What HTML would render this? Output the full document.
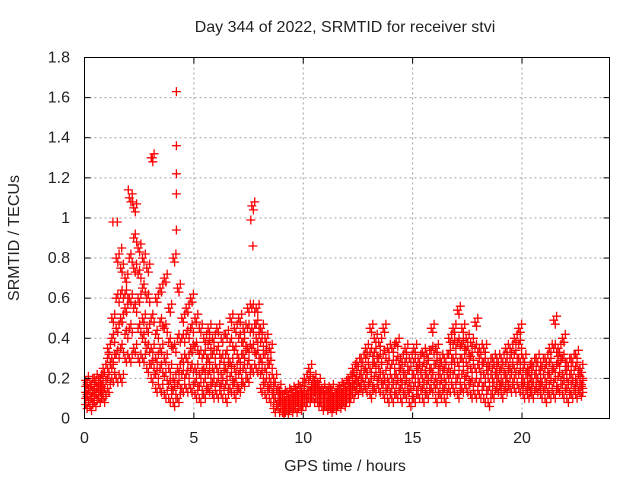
<!DOCTYPE html>
<html><head><meta charset="utf-8"><style>
body{margin:0;background:#fff}
svg text{font-family:"Liberation Sans",sans-serif;font-size:16px;fill:#222}
</style></head><body>
<svg id="chart" width="640" height="480" viewBox="0 0 640 480">
<rect width="640" height="480" fill="#fff"/>
<text x="345" y="32" text-anchor="middle">Day 344 of 2022, SRMTID for receiver stvi</text>
<text transform="translate(19,238) rotate(-90)" text-anchor="middle">SRMTID / TECUs</text>
<text x="345" y="471" text-anchor="middle">GPS time / hours</text>
<g id="grid"></g>
<g id="marks"></g>
<rect x="84.5" y="57.5" width="525" height="361" fill="none" stroke="#000" stroke-width="1"/>
<g id="ticks"></g>
</svg>
<script>
const xTicks=[0,5,10,15,20];
const yTicks=[0,0.2,0.4,0.6,0.8,1,1.2,1.4,1.6,1.8];
const yTickLabels=["0","0.2","0.4","0.6","0.8","1","1.2","1.4","1.6","1.8"];
const tStart=0.1, tStep=0.2;
const lo=[.07,.06,.08,.1,.1,.15,.2,.2,.2,.3,.3,.35,.3,.3,.25,.2,.15,.15,.12,.1,.08,.1,.15,.15,.15,.12,.1,.12,.15,.12,.12,.12,.1,.15,.12,.15,.18,.2,.25,.25,.15,.12,.1,.05,.05,.03,.04,.05,.05,.06,.08,.1,.1,.08,.06,.06,.05,.06,.07,.08,.1,.12,.14,.15,.15,.12,.15,.15,.12,.1,.1,.12,.1,.12,.08,.1,.12,.1,.12,.15,.1,.12,.1,.15,.15,.12,.15,.15,.12,.12,.12,.1,.08,.12,.15,.12,.15,.15,.15,.15,.12,.12,.12,.15,.12,.1,.12,.12,.15,.12,.1,.12,.12,.13];
const q1=[.1,.09,.11,.12,.13,.2,.25,.32,.35,.42,.45,.55,.45,.4,.35,.27,.22,.25,.21,.17,.14,.17,.22,.22,.25,.18,.16,.18,.22,.18,.18,.17,.17,.21,.18,.22,.25,.27,.35,.32,.22,.18,.15,.08,.07,.05,.06,.07,.07,.08,.1,.12,.12,.1,.08,.08,.07,.08,.09,.1,.12,.15,.17,.18,.2,.18,.21,.2,.17,.15,.15,.17,.15,.17,.13,.16,.16,.15,.17,.2,.15,.17,.15,.2,.22,.2,.22,.21,.18,.18,.18,.16,.14,.16,.18,.16,.18,.2,.2,.22,.16,.15,.16,.18,.16,.15,.17,.18,.21,.17,.15,.17,.16,.15];
const mid=[.13,.12,.14,.15,.17,.25,.3,.45,.5,.55,.6,.75,.6,.5,.45,.35,.3,.35,.3,.25,.2,.25,.3,.3,.35,.25,.22,.25,.3,.25,.25,.22,.25,.28,.25,.3,.32,.35,.45,.4,.3,.25,.2,.12,.1,.07,.08,.09,.1,.1,.12,.14,.15,.12,.1,.1,.09,.1,.11,.12,.14,.18,.2,.22,.25,.25,.28,.25,.22,.2,.2,.22,.2,.22,.18,.22,.2,.2,.22,.25,.2,.22,.2,.25,.3,.28,.3,.28,.25,.25,.25,.22,.2,.2,.22,.2,.22,.25,.25,.3,.2,.18,.2,.22,.2,.2,.22,.25,.28,.22,.2,.22,.2,.18];
const q3=[.16,.15,.17,.18,.21,.3,.4,.6,.62,.62,.8,.9,.72,.65,.6,.5,.42,.48,.45,.38,.35,.4,.4,.42,.45,.36,.32,.32,.37,.32,.34,.3,.32,.38,.34,.4,.38,.45,.55,.47,.38,.32,.27,.16,.12,.1,.1,.11,.12,.13,.16,.19,.17,.15,.12,.12,.12,.11,.13,.14,.17,.21,.24,.26,.3,.33,.33,.3,.32,.27,.27,.29,.25,.28,.24,.28,.25,.26,.27,.34,.27,.26,.25,.32,.37,.38,.37,.34,.31,.35,.3,.28,.24,.25,.26,.25,.28,.3,.32,.37,.25,.22,.24,.26,.24,.25,.28,.35,.31,.3,.24,.26,.26,.21];
const hi=[.19,.18,.2,.2,.25,.35,.5,.8,.75,.7,1.1,1.05,.85,.8,.75,1.3,.6,.65,.7,.55,.8,.65,.5,.55,.6,.5,.45,.4,.45,.4,.45,.4,.42,.5,.45,.5,.45,.55,1.06,.55,.45,.4,.35,.2,.15,.12,.13,.14,.15,.16,.2,.25,.2,.18,.15,.14,.15,.13,.16,.17,.2,.25,.28,.3,.35,.45,.4,.38,.45,.35,.35,.38,.3,.35,.3,.35,.3,.33,.32,.45,.35,.3,.3,.4,.45,.54,.45,.4,.38,.48,.35,.35,.28,.3,.3,.3,.35,.35,.4,.45,.3,.25,.28,.3,.28,.3,.35,.49,.35,.4,.28,.3,.32,.25];
const spikeT=[4.2,4.2,4.2,4.2,4.2,2.0,1.5,1.3,7.6,7.7,3.1,2.2,1.7];
const spikeV=[1.63,1.36,1.22,1.12,0.94,1.14,0.98,0.98,0.99,0.86,1.3,1.08,0.85];
const X0=84.5,X1=609.5,Y0=418.5,Y1=57.5,XMAX=24,YMAX=1.8;
function sx(t){return X0+(X1-X0)*t/XMAX}
function sy(v){return Y0-(Y0-Y1)*v/YMAX}
const NS="http://www.w3.org/2000/svg";
const grid=document.getElementById('grid'),ticks=document.getElementById('ticks'),marks=document.getElementById('marks');
function mk(tag,attrs,parent){const e=document.createElementNS(NS,tag);for(const k in attrs)e.setAttribute(k,attrs[k]);parent.appendChild(e);return e;}
xTicks.forEach(t=>{
  const x=sx(t);
  if(t>0){const g=mk('line',{x1:x,x2:x,y1:Y1,y2:Y0,stroke:'#a0a0a0','stroke-dasharray':'2,3'},grid);
  
  }
  mk('line',{x1:x,x2:x,y1:Y0,y2:Y0-6,stroke:'#000'},ticks);
  mk('line',{x1:x,x2:x,y1:Y1,y2:Y1+6,stroke:'#000'},ticks);
  const l=mk('text',{x:x,y:443,'text-anchor':'middle'},ticks);l.textContent=t;
  
  
});
yTicks.forEach((v,i)=>{
  const y=sy(v);
  if(v>0&&v<1.8){const g=mk('line',{x1:X0,x2:X1,y1:y,y2:y,stroke:'#a0a0a0','stroke-dasharray':'2,3'},grid);
  
  }
  mk('line',{x1:X0,x2:X0+6,y1:y,y2:y,stroke:'#000'},ticks);
  mk('line',{x1:X1,x2:X1-6,y1:y,y2:y,stroke:'#000'},ticks);
  const l=mk('text',{x:70,y:y+5,'text-anchor':'end'},ticks);l.textContent=yTickLabels[i];
  
  
});
let dpath='';
function cross(t,v){
  const x=sx(t),y=sy(v);
  dpath+=`M${(x-4.5).toFixed(1)},${y.toFixed(1)}h9M${x.toFixed(1)},${(y-4.5).toFixed(1)}v9`;
}
const offs=[0,0.07,0.13];
[lo,q1,mid,q3,hi].forEach((arr,k)=>arr.forEach((v,i)=>offs.forEach((o,j)=>{
  const dv=(j===1?0.02:(j===2?-0.02:0))*(k%2?1:-1);
  cross(tStart+tStep*i+o-0.05,Math.max(0.02,v+dv));
})));
spikeT.forEach((t,i)=>cross(t,spikeV[i]));
const p=mk('path',{d:dpath,stroke:'#ff0000','stroke-width':1.3,fill:'none'},marks);


</script>
</body></html>
